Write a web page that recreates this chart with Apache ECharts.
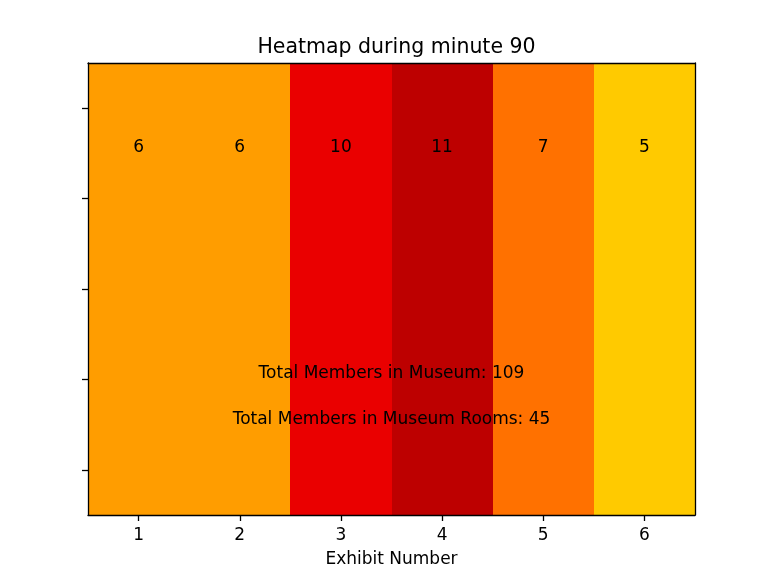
<!DOCTYPE html>
<html>
<head>
<meta charset="utf-8">
<script src="https://cdn.jsdelivr.net/npm/echarts@6/dist/echarts.min.js"></script>
<style>
html,body{margin:0;padding:0;background:#fff;}
#main{width:765px;height:573px;}
</style>
</head>
<body>
<div id="main"></div>
<script>
// 数据
var minute = 90;
var exhibits = [1, 2, 3, 4, 5, 6];
var memberCounts = [6, 6, 10, 11, 7, 5];
var totalMuseum = 109;
var totalRooms = 45;
var xTicks = [1, 2, 3, 4, 5, 6];
var yTicks = [-0.4, -0.2, 0, 0.2, 0.4];

var FONT = 'DejaVu Sans';
var colorMin = 0, colorMax = 15; // 颜色范围

// matplotlib 'hot_r' 色图
function hotR(v) {
    var t = (v - colorMin) / (colorMax - colorMin);
    t = Math.max(0, Math.min(1, t));
    var x = 1 - t;
    var r = x < 0.365079 ? 0.0416 + (1 - 0.0416) * x / 0.365079 : 1;
    var g = x < 0.365079 ? 0 : (x < 0.746032 ? (x - 0.365079) / (0.746032 - 0.365079) : 1);
    var b = x < 0.746032 ? 0 : (x - 0.746032) / (1 - 0.746032);
    return 'rgb(' + Math.round(r * 255) + ',' + Math.round(g * 255) + ',' + Math.round(b * 255) + ')';
}

var cellData = [];
for (var i = 0; i < exhibits.length; i++) {
    cellData.push([exhibits[i], memberCounts[i]]);
}

var noteData = [
    [3.5, 0.2, 'Total Members in Museum: ' + totalMuseum],
    [3.5, 0.3, 'Total Members in Museum Rooms: ' + totalRooms]
];

function renderCell(params, api) {
    var x = api.value(0), v = api.value(1);
    var p0 = api.coord([x - 0.5, -0.5]);
    var p1 = api.coord([x + 0.5, 0.5]);
    var lbl = api.coord([x, -0.3]);
    var x0 = Math.round(Math.min(p0[0], p1[0])), x1 = Math.round(Math.max(p0[0], p1[0]));
    var y0 = Math.round(Math.min(p0[1], p1[1])), y1 = Math.round(Math.max(p0[1], p1[1]));
    return {
        type: 'group',
        children: [{
            type: 'rect',
            shape: {x: x0, y: y0, width: x1 - x0, height: y1 - y0},
            style: {fill: hotR(v)}
        }, {
            type: 'text',
            x: lbl[0],
            y: lbl[1] + 3,
            style: {
                text: String(v), fill: '#000', font: '17px "' + FONT + '"',
                align: 'center', verticalAlign: 'bottom'
            }
        }]
    };
}

function renderNote(params, api) {
    var p = api.coord([api.value(0), api.value(1)]);
    return {
        type: 'text',
        x: p[0],
        y: p[1] + 3,
        style: {
            text: noteData[params.dataIndex][2], fill: '#000', font: '17px "' + FONT + '"',
            align: 'center', verticalAlign: 'bottom'
        }
    };
}

var lineStyle = {color: '#000', width: 1.3};

var option = {
    animation: false,
    backgroundColor: '#fff',
    textStyle: {fontFamily: FONT},
    title: {
        text: 'Heatmap during minute ' + minute,
        left: 391.5,
        textAlign: 'center',
        top: 32,
        textStyle: {fontFamily: FONT, fontSize: 20.5, fontWeight: 'normal', color: '#000'}
    },
    grid: {left: 88, top: 63, width: 607, height: 452},
    xAxis: [{
        type: 'value', min: 0.5, max: 6.5, z: 10,
        name: 'Exhibit Number', nameLocation: 'middle', nameGap: 36,
        nameTextStyle: {fontFamily: FONT, fontSize: 17, color: '#000'},
        axisLine: {show: true, onZero: false, lineStyle: lineStyle},
        axisTick: {show: true, length: 6, lineStyle: lineStyle, customValues: xTicks},
        axisLabel: {fontFamily: FONT, fontSize: 17, color: '#000', margin: 12, customValues: xTicks},
        splitLine: {show: false}
    }, {
        type: 'value', min: 0.5, max: 6.5, position: 'top', z: 10,
        axisLine: {show: true, onZero: false, lineStyle: lineStyle},
        axisTick: {show: false}, axisLabel: {show: false}, splitLine: {show: false}
    }],
    yAxis: [{
        type: 'value', min: -0.5, max: 0.5, inverse: true, z: 10,
        axisLine: {show: true, onZero: false, lineStyle: lineStyle},
        axisTick: {show: true, length: 6, lineStyle: lineStyle, customValues: yTicks},
        axisLabel: {show: false},
        splitLine: {show: false}
    }, {
        type: 'value', min: -0.5, max: 0.5, inverse: true, position: 'right', z: 10,
        axisLine: {show: true, onZero: false, lineStyle: lineStyle},
        axisTick: {show: false}, axisLabel: {show: false}, splitLine: {show: false}
    }],
    series: [{
        type: 'custom',
        renderItem: renderCell,
        data: cellData,
        encode: {x: 0, y: 1},
        clip: false
    }, {
        type: 'custom',
        renderItem: renderNote,
        data: noteData,
        encode: {x: 0, y: 1},
        z: 20
    }]
};

var myChart = echarts.init(document.getElementById('main'));
myChart.setOption(option);
</script>
</body>
</html>
